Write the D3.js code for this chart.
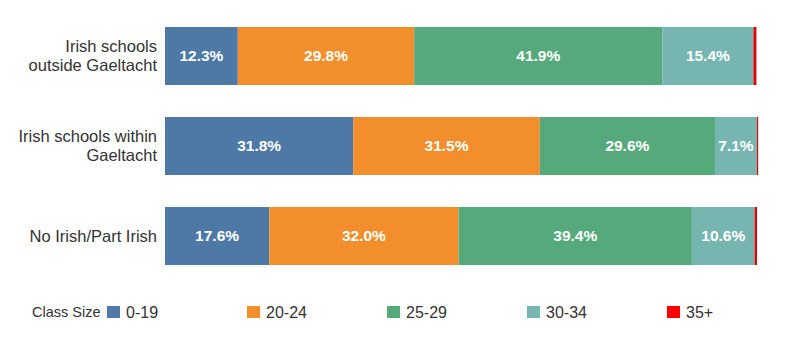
<!DOCTYPE html>
<html>
<head>
<meta charset="utf-8">
<script src="https://cdn.jsdelivr.net/npm/d3@7"></script>
<style>
  body { margin: 0; background: #fff; }
  svg { font-family: "Liberation Sans", Arial, sans-serif; }
</style>
</head>
<body>
<svg id="chart" width="800" height="350"></svg>
<script>
// Class size distribution by school type (percent of pupils)
const categories = [
  ["Irish schools", "outside Gaeltacht"],
  ["Irish schools within", "Gaeltacht"],
  ["No Irish/Part Irish"]
];
const classSizes = ["0-19", "20-24", "25-29", "30-34", "35+"];
const size0to19  = [12.3, 31.8, 17.6];
const size20to24 = [29.8, 31.5, 32.0];
const size25to29 = [41.9, 29.6, 39.4];
const size30to34 = [15.4, 7.1, 10.6];
const size35plus = [0.5, 0.2, 0.4];
const colors = ["#4e78a6", "#f28e2c", "#55a97a", "#77b6b0", "#e00000"];
const legendColors = ["#4e78a6", "#f28e2c", "#55a97a", "#77b6b0", "#ff0000"];

const seriesValues = [size0to19, size20to24, size25to29, size30to34, size35plus];
const rows = categories.map((c, i) => {
  const r = { key: i, label: c };
  classSizes.forEach((s, j) => { r[s] = seriesValues[j][i]; });
  return r;
});

const svg = d3.select("#chart");
const x = d3.scaleLinear().domain([0, 100]).range([165, 757]);
const y = d3.scaleBand().domain(d3.range(categories.length)).range([27, 265])
  .paddingInner(32 / 90).paddingOuter(0);

const stack = d3.stack().keys(classSizes)(rows);

const layer = svg.append("g").selectAll("g").data(stack).join("g")
  .attr("fill", (d, i) => colors[i]);

layer.selectAll("rect").data(d => d).join("rect")
  .attr("x", d => x(d[0]))
  .attr("y", (d, i) => y(i))
  .attr("width", d => x(d[1]) - x(d[0]))
  .attr("height", y.bandwidth());

// value labels inside segments (not for the thin 35+ slice)
stack.slice(0, 4).forEach((s, si) => {
  svg.append("g").selectAll("text").data(s).join("text")
    .attr("x", d => (x(d[0]) + x(d[1])) / 2)
    .attr("y", (d, i) => y(i) + y.bandwidth() / 2)
    .attr("dy", "0.35em")
    .attr("text-anchor", "middle")
    .attr("fill", "#fff")
    .attr("font-weight", "bold")
    .attr("font-size", 15.5)
    .text(d => (d[1] - d[0]).toFixed(1) + "%");
});

// category labels
const cat = svg.append("g").selectAll("text").data(categories).join("text")
  .attr("text-anchor", "end")
  .attr("fill", "#333")
  .attr("font-size", 16.5);
cat.each(function (lines, i) {
  const t = d3.select(this);
  const cy = y(i) + y.bandwidth() / 2;
  const lh = 19;
  lines.forEach((ln, k) => {
    t.append("tspan")
      .attr("x", 157)
      .attr("y", cy + (k - (lines.length - 1) / 2) * lh)
      .attr("dy", "0.35em")
      .text(ln);
  });
});

// legend
const legendY = 312;
svg.append("text")
  .attr("x", 32).attr("y", legendY).attr("dy", "0.35em")
  .attr("font-size", 14.5).attr("fill", "#333")
  .text("Class Size");
const lg = svg.append("g").selectAll("g").data(classSizes).join("g")
  .attr("transform", (d, i) => `translate(${107 + i * 140},${legendY})`);
lg.append("rect").attr("x", 0).attr("y", -6).attr("width", 13).attr("height", 12)
  .attr("fill", (d, i) => legendColors[i]);
lg.append("text").attr("x", 19).attr("dy", "0.35em")
  .attr("font-size", 16).attr("fill", "#333")
  .text(d => d);
</script>
</body>
</html>
